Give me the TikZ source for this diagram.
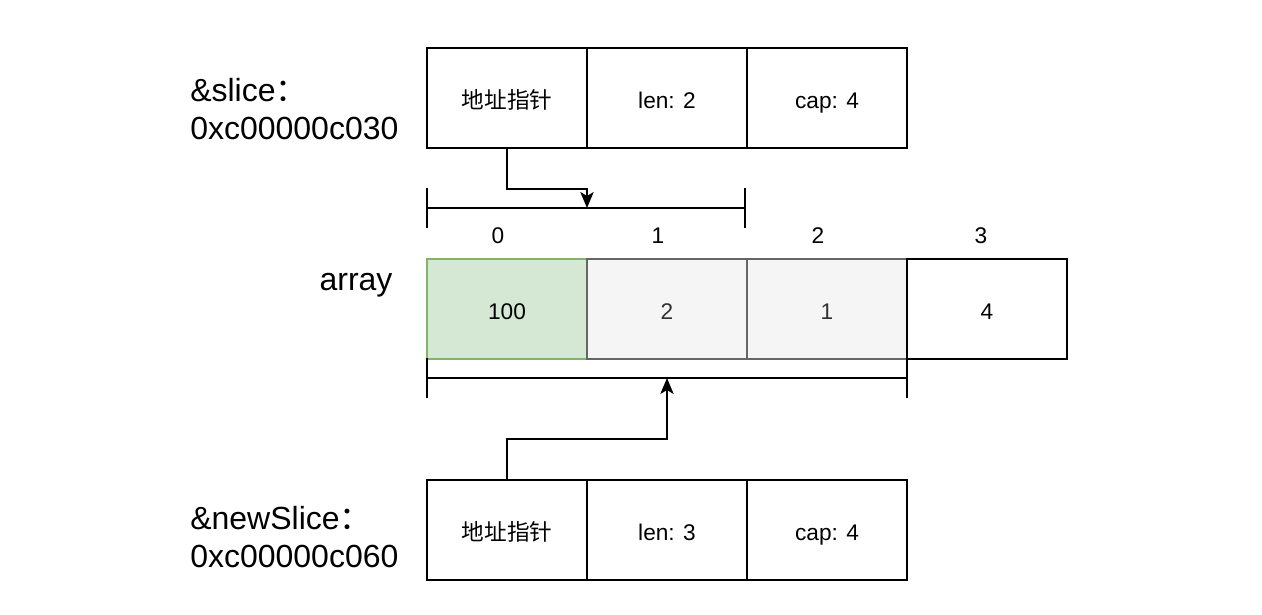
\documentclass[tikz,border=0pt]{standalone}
\usepackage{fontspec}
\setmainfont{Liberation Sans}
\newfontfamily\cjk{Noto Sans CJK SC}
\usetikzlibrary{arrows.meta}
\definecolor{gfill}{HTML}{D5E8D4}
\definecolor{gdraw}{HTML}{82B366}
\definecolor{hfill}{HTML}{F5F5F5}
\definecolor{hdraw}{HTML}{666666}
\begin{document}
\begin{tikzpicture}[x=0.75pt,y=-0.75pt,
  cell/.style={draw=black,line width=1pt,minimum width=120pt,minimum height=75pt,inner sep=0pt,text height=15pt,text depth=0pt,font=\fontsize{17}{20}\selectfont},
  gcell/.style={cell,draw=gdraw,fill=gfill},
  hcell/.style={cell,draw=hdraw,fill=hfill,text=black!80},
  idx/.style={font=\fontsize{17}{20}\selectfont,inner sep=0pt,text height=12pt,text depth=0pt},
  lbl/.style={font=\fontsize{24}{28.5}\selectfont,inner sep=0pt,align=left},
  bracket/.style={line width=1.3pt},
  conn/.style={line width=1.3pt,-{Stealth[length=12pt,width=10pt,inset=3pt]}}]
\useasboundingbox (0,0) rectangle (1262,614);
% top slice
\node[cell] (a1) at (507,98) {\cjk 地址指针};
\node[cell] (l1) at (667,98) {len: 2};
\node[cell] (c1) at (827,98) {cap: 4};
\node[lbl,anchor=north west] (s1) at (190,78) {\&slice{\cjk ：}\\0xc00000c030};
% top bracket
\coordinate (tl) at (427,208);
\coordinate (tr) at (745,208);
\coordinate (tm) at (587,208);
\draw[bracket] (tl) -- (tr);
\draw[bracket] ([yshift=15pt]tl) -- ([yshift=-15pt]tl);
\draw[bracket] ([yshift=15pt]tr) -- ([yshift=-15pt]tr);
\draw[conn] (a1.south) -- ++(0,40) -| (tm);
% indices
\node[idx] (i0) at (498,235) {0};
\node[idx] (i1) at (658,235) {1};
\node[idx] (i2) at (818,235) {2};
\node[idx] (i3) at (981,235) {3};
% array
\node[lbl] (arr) at (356,285) {array};
\node[gcell] (e0) at (507,309) {100};
\node[hcell] (e1) at (667,309) {2};
\node[hcell] (e2) at (827,309) {1};
\node[cell] (e3) at (987,309) {4};
% bottom bracket
\coordinate (bl) at (427,378);
\coordinate (br) at (907,378);
\coordinate (bm) at (667,378);
\draw[bracket] (bl) -- (br);
\draw[bracket] ([yshift=15pt]bl) -- ([yshift=-15pt]bl);
\draw[bracket] ([yshift=15pt]br) -- ([yshift=-15pt]br);
% bottom slice
\node[cell] (a2) at (507,530) {\cjk 地址指针};
\node[cell] (l2) at (667,530) {len: 3};
\node[cell] (c2) at (827,530) {cap: 4};
\node[lbl,anchor=north west] (s2) at (190,506) {\&newSlice{\cjk ：}\\0xc00000c060};
\draw[conn] (a2.north) -- ++(0,-40) -| (bm);
\end{tikzpicture}
\end{document}
